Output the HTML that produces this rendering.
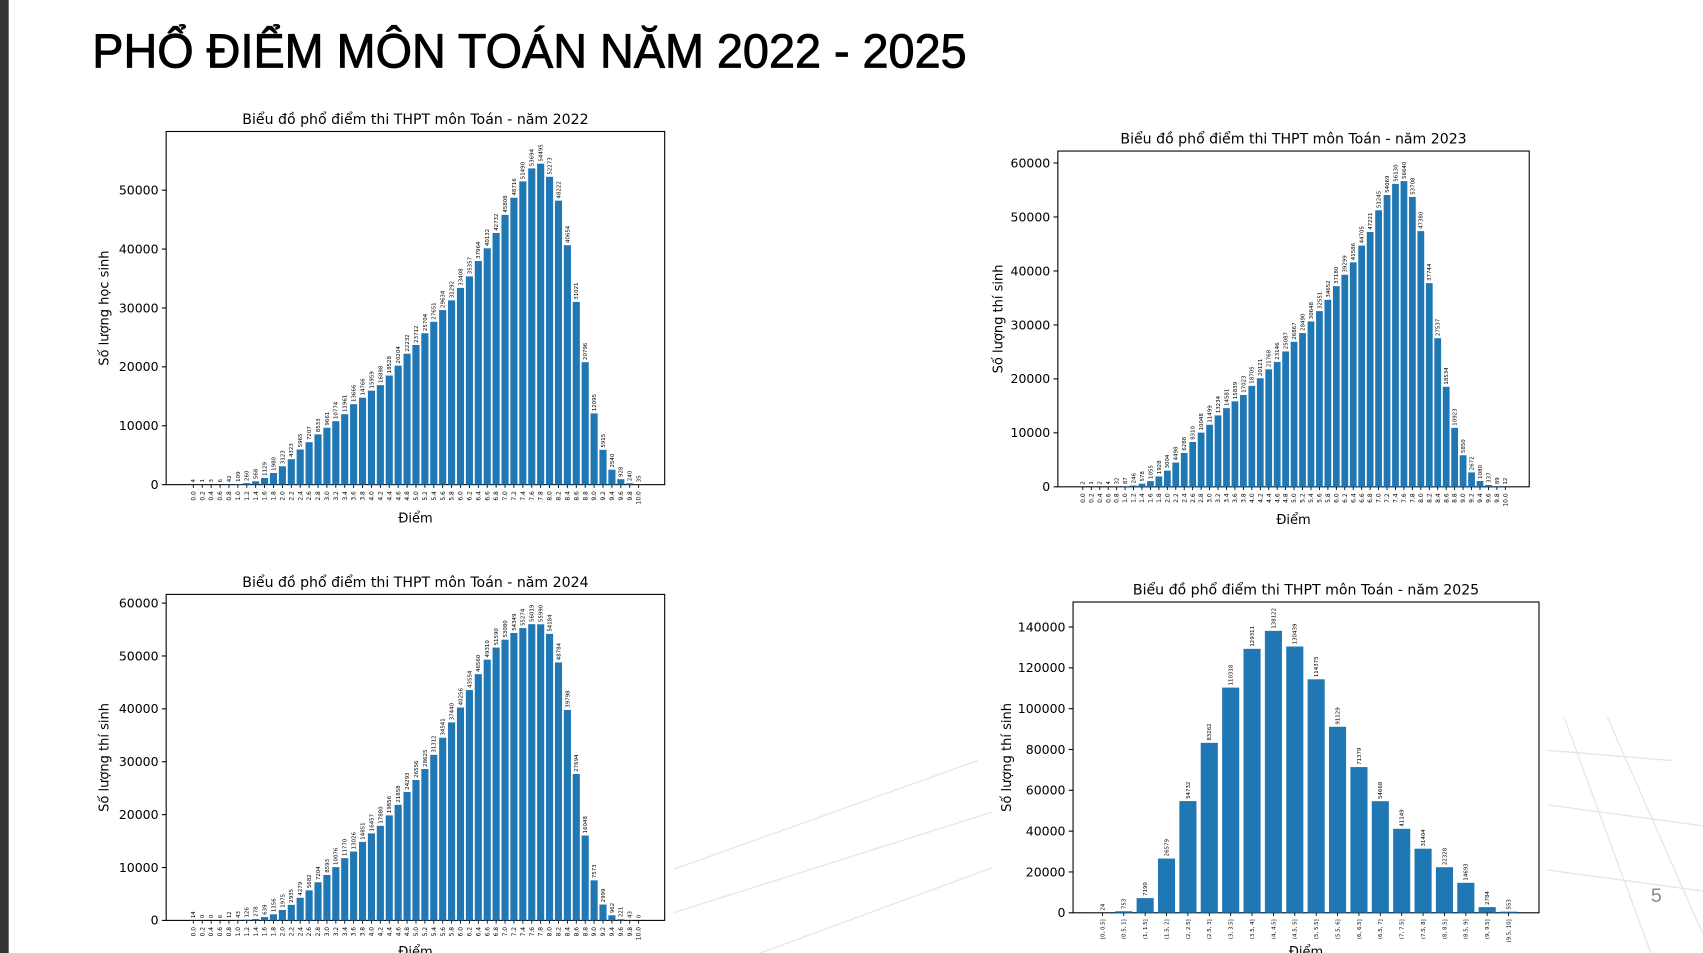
<!DOCTYPE html>
<html><head><meta charset="utf-8">
<style>
html,body{margin:0;padding:0;background:#fff;}
body{width:1703px;height:953px;overflow:hidden;}
svg{display:block;font-family:"DejaVu Sans","Liberation Sans",sans-serif;}
</style></head>
<body>
<svg id="s" width="1703" height="953" viewBox="0 0 1568 877" preserveAspectRatio="none" xmlns="http://www.w3.org/2000/svg">
<rect width="1568" height="877" fill="#fff"/>
<rect x="0" y="0" width="8" height="877" fill="#333"/>
<g stroke="#e6e6e6" stroke-width="1.2" fill="none">
<path d="M620 800 L900 700 M620 840 L1000 720 M700 877 L1100 730 M1420 690 L1540 700 M1420 740 L1568 760 M1420 800 L1568 820 M1440 660 L1520 877 M1480 660 L1568 860"/>
</g>
<text x="85" y="62" font-family="Liberation Sans, sans-serif" font-size="44" fill="#000" stroke="#000" stroke-width="0.8" textLength="805" lengthAdjust="spacingAndGlyphs">PHỔ ĐIỂM MÔN TOÁN NĂM 2022 - 2025</text>
<text x="1520" y="830" font-family="Liberation Sans, sans-serif" font-size="18" fill="#888">5</text>
<g id="charts"></g>
</svg>
<script>
const NS="http://www.w3.org/2000/svg";
const root=document.getElementById('charts');
function el(t,a,txt){const e=document.createElementNS(NS,t);for(const k in a)e.setAttribute(k,a[k]);if(txt!==undefined)e.textContent=txt;root.appendChild(e);return e;}
function chart(c){
 el('rect',{x:c.px,y:c.py,width:c.pw,height:c.ph,fill:'#fff'});
 el('rect',{x:c.x0,y:c.y1,width:c.x1-c.x0,height:c.y0-c.y1,fill:'none',stroke:'#000','stroke-width':1});
 el('text',{x:(c.x0+c.x1)/2,y:c.y1-7,'font-size':13,'text-anchor':'middle'},c.title);
 const ys=(c.y0-c.y1)/c.ymaxAxis;
 for(let v=0;v<=c.ymaxTick;v+=c.ystep){const y=c.y0-v*ys;
  el('line',{x1:c.x0-4,x2:c.x0,y1:y,y2:y,stroke:'#000','stroke-width':1});
  el('text',{x:c.x0-7,y:y+4,'font-size':11.5,'text-anchor':'end'},String(v));}
 const n=c.data.length,sp=(c.bl-c.bf)/(n-1),bw=sp*c.wf;
 c.data.forEach((v,i)=>{const cx=c.bf+i*sp,h=v*ys;
  el('rect',{x:cx-bw/2,y:c.y0-h,width:bw,height:h,fill:'#1f77b4'});
  el('text',{x:0,y:0,'font-size':c.vf,transform:`translate(${cx+c.vf*0.35},${c.y0-h-2}) rotate(-90)`},String(v));
  el('line',{x1:cx,x2:cx,y1:c.y0,y2:c.y0+3,stroke:'#000','stroke-width':0.8});
  el('text',{x:0,y:0,'font-size':c.tf,'text-anchor':'end',transform:`translate(${cx+c.tf*0.35},${c.y0+6}) rotate(-90)`},c.labels[i]);
 });
 el('text',{x:(c.x0+c.x1)/2,y:c.xly,'font-size':12,'text-anchor':'middle'},'Điểm');
 el('text',{x:0,y:0,'font-size':12,'text-anchor':'middle',transform:`translate(${c.ylx},${(c.y0+c.y1)/2}) rotate(-90)`},c.ylab);
}
const lab51=[];for(let i=0;i<=50;i++)lab51.push((i*0.2).toFixed(1));
const d22=[4,1,3,6,42,109,260,568,1129,1980,3123,4323,5965,7207,8533,9661,10774,11961,13666,14766,15959,16898,18528,20204,22232,23712,25704,27651,29634,31292,33408,35357,37964,40132,42732,45808,48716,51490,53694,54495,52273,48222,40654,31021,20796,12095,5915,2540,928,240,35];
const d23=[2,1,2,4,32,87,246,578,1055,1928,3004,4498,6288,8310,10048,11499,13234,14581,15839,17023,18705,20121,21768,23146,25087,26867,28490,30648,32551,34652,37180,39299,41586,44705,47221,51245,54069,56130,56640,53708,47380,37744,27537,18534,10923,5850,2672,1080,337,89,12];
const d24=[14,0,0,6,12,43,126,278,639,1156,1975,2935,4279,5682,7204,8593,10076,11770,13026,14851,16457,17880,19856,21858,24293,26556,28625,31312,34541,37440,40256,43554,46560,49310,51590,53080,54349,55274,56019,55990,54184,48784,39798,27694,16048,7573,2999,962,221,43,0];
const d25=[24,753,7190,26579,54732,83262,110318,129311,138122,130439,114375,91129,71379,54668,41149,31404,22328,14693,2784,553];
const l25=['[0, 0.5]'];for(let i=1;i<20;i++)l25.push(`(${i*0.5}, ${(i+1)*0.5}]`.replace(/\.0\b/g,''));
chart({px:82,py:94,pw:538,ph:398,x0:153,x1:612,y0:446,y1:121,ymaxAxis:(446-121)/(446-175)*50000,ymaxTick:50000,ystep:10000,data:d22,labels:lab51,bf:178,bl:588,wf:0.8,vf:5,tf:5.5,title:'Biểu đồ phổ điểm thi THPT môn Toán - năm 2022',xly:481,ylx:100,ylab:'Số lượng học sinh'});
chart({px:906,py:112,pw:511,ph:380,x0:974,x1:1408,y0:448,y1:139,ymaxAxis:(448-139)/(448-150)*60000,ymaxTick:60000,ystep:10000,data:d23,labels:lab51,bf:997,bl:1386,wf:0.8,vf:5,tf:5.5,title:'Biểu đồ phổ điểm thi THPT môn Toán - năm 2023',xly:482,ylx:923,ylab:'Số lượng thí sinh'});
chart({px:82,py:521,pw:538,ph:356,x0:153,x1:612,y0:847,y1:547,ymaxAxis:(847-547)/(847-555)*60000,ymaxTick:60000,ystep:10000,data:d24,labels:lab51,bf:178,bl:588,wf:0.8,vf:5,tf:5.5,title:'Biểu đồ phổ điểm thi THPT môn Toán - năm 2024',xly:880,ylx:100,ylab:'Số lượng thí sinh'});
chart({px:914,py:531,pw:511,ph:346,x0:988,x1:1417,y0:840,y1:554,ymaxAxis:(840-554)/(840-577)*140000,ymaxTick:140000,ystep:20000,data:d25,labels:l25,bf:1015,bl:1389,wf:0.8,vf:5,tf:5,title:'Biểu đồ phổ điểm thi THPT môn Toán - năm 2025',xly:880,ylx:931,ylab:'Số lượng thí sinh'});
</script>
</body></html>
